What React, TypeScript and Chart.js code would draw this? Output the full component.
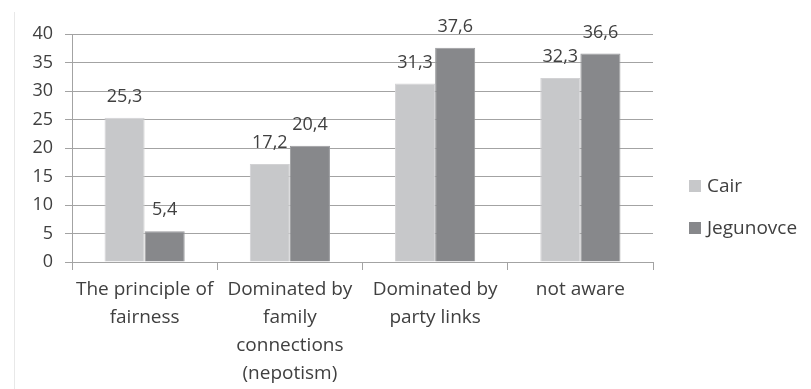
import React, { useEffect, useRef } from "react";
import { Chart, registerables } from "chart.js";

Chart.register(...registerables);

const categories: string[][] = [
  ["The principle of", "fairness"],
  ["Dominated by", "family", "connections", "(nepotism)"],
  ["Dominated by", "party links"],
  ["not aware"],
];
const seriesNames = ["Cair", "Jegunovce"];
const cairValues = [25.3, 17.2, 31.3, 32.3];
const jegunovceValues = [5.4, 20.4, 37.6, 36.6];
const yTicks = [0, 5, 10, 15, 20, 25, 30, 35, 40];

const TEXT = "#404040";
const GRID = "#a3a3a3";
const COLORS = ["#c7c8ca", "#87888b"];
const BORDERS = ["#d2d2d4", "#9a9b9e"];
const FONT = "'Open Sans', 'DejaVu Sans', sans-serif";

const fmt = (v: number) => v.toFixed(1).replace(".", ",");

const labelPlugin = {
  id: "valueLabels",
  afterDatasetsDraw(chart: any) {
    const ctx = chart.ctx;
    ctx.save();
    ctx.font = `18px ${FONT}`;
    ctx.fillStyle = TEXT;
    ctx.textAlign = "center";
    ctx.textBaseline = "middle";
    chart.data.datasets.forEach((ds: any, di: number) => {
      const meta = chart.getDatasetMeta(di);
      meta.data.forEach((el: any, i: number) => {
        ctx.fillText(fmt(ds.data[i]), el.x, el.y - 21);
      });
    });
    ctx.restore();
  },
};

const legendPlugin = {
  id: "sideLegend",
  afterDraw(chart: any) {
    const ctx = chart.ctx;
    ctx.save();
    // faint frame line on the left
    ctx.strokeStyle = "#e8e8e8";
    ctx.lineWidth = 1;
    ctx.beginPath();
    ctx.moveTo(14.5, 12);
    ctx.lineTo(14.5, 389);
    ctx.stroke();

    ctx.font = `19px ${FONT}`;
    ctx.textBaseline = "middle";
    ctx.textAlign = "left";
    const rows = [186, 228];
    chart.data.datasets.forEach((ds: any, di: number) => {
      const y = rows[di];
      ctx.fillStyle = ds.backgroundColor;
      ctx.fillRect(689, y - 6, 12, 12);
      ctx.fillStyle = TEXT;
      ctx.fillText(ds.label, 707, y + 1);
    });
    ctx.restore();
  },
};

export default function App() {
  const ref = useRef<HTMLCanvasElement | null>(null);

  useEffect(() => {
    document.body.style.margin = "0";
    if (!ref.current) return;
    const chart = new Chart(ref.current, {
      type: "bar",
      data: {
        labels: categories,
        datasets: [
          {
            label: seriesNames[0],
            data: cairValues,
            backgroundColor: COLORS[0],
            borderColor: BORDERS[0],
            borderWidth: 1,
          },
          {
            label: seriesNames[1],
            data: jegunovceValues,
            backgroundColor: COLORS[1],
            borderColor: BORDERS[1],
            borderWidth: 1,
          },
        ],
      },
      options: {
        responsive: false,
        animation: false,
        devicePixelRatio: 1,
        layout: { padding: { left: 0, right: 158, top: 34, bottom: 0 } },
        datasets: {
          bar: { categoryPercentage: 0.552, barPercentage: 1 },
        },
        plugins: {
          legend: { display: false },
          tooltip: { enabled: false },
        },
        scales: {
          x: {
            afterFit: (s: any) => {
              s.height = 127;
            },
            grid: {
              offset: true,
              drawOnChartArea: false,
              drawTicks: true,
              tickLength: 8,
              color: GRID,
            },
            border: { display: true, color: GRID },
            ticks: {
              color: TEXT,
              padding: 6,
              maxRotation: 0,
              autoSkip: false,
              font: { family: FONT, size: 19, lineHeight: 28 / 19 },
            },
          },
          y: {
            min: 0,
            max: 40,
            afterFit: (s: any) => {
              s.width = 72;
            },
            afterBuildTicks: (s: any) => {
              s.ticks = yTicks.map((v) => ({ value: v }));
            },
            grid: {
              color: GRID,
              tickLength: 7,
              drawTicks: true,
            },
            border: { display: true, color: GRID },
            ticks: {
              color: TEXT,
              padding: 12,
              font: { family: FONT, size: 18 },
            },
          },
        },
      },
      plugins: [labelPlugin, legendPlugin],
    });
    return () => chart.destroy();
  }, []);

  return (
    <div style={{ width: 811, height: 389, background: "#fff" }}>
      <canvas ref={ref} width={811} height={389} />
    </div>
  );
}
